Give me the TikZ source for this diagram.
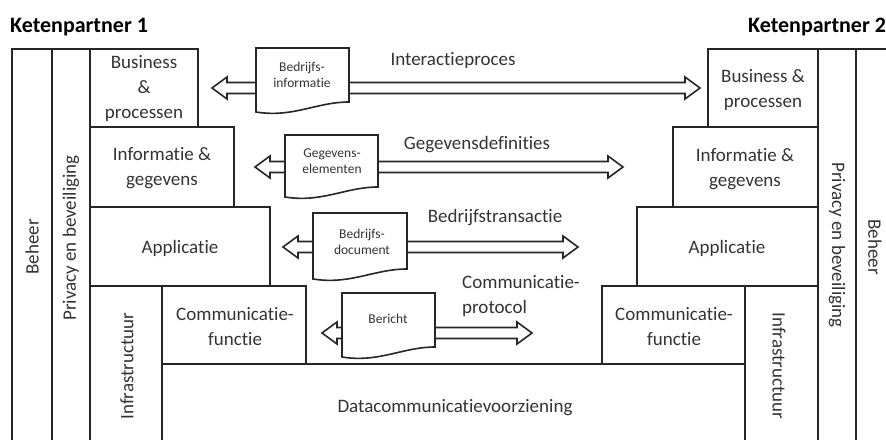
\documentclass[tikz,border=0pt]{standalone}
\usepackage{fontspec}
\setmainfont[Ligatures=NoCommon]{Carlito}
\usepackage{tikz}

\tikzset{
  layer/.style={draw=black!85, line width=1.8pt},
  lbl/.style={font=\fontsize{19}{25}\selectfont, align=center, text=black!80, inner sep=0pt},
  vlbl/.style={lbl, rotate=90},
  rlbl/.style={lbl, rotate=-90},
  doclbl/.style={font=\fontsize{13.5}{16}\selectfont, align=center, text=black!80, inner sep=0pt},
  title/.style={font=\fontsize{22}{26}\selectfont\bfseries, text=black, inner sep=0pt},
  hollow/.style={draw=black!85, line width=1.6pt, fill=white, line join=miter},
  docbox/.style={draw=black!85, line width=1.6pt, fill=white}
}

% hollow double arrow: left tip, right tip, height
\newcommand{\dblarr}[3]{
  \pgfmathsetmacro\len{#2-#1-30}
  \draw[hollow] (#1,#3) -- ++(15,-11) -- ++(0,5.5) -- ++(\len,0) -- ++(0,-5.5)
    -- ++(15,11) -- ++(-15,11) -- ++(0,-5.5) -- ++(-\len,0) -- ++(0,5.5) -- cycle;
}

% document with wavy bottom: left, right, top, bottom
\newcommand{\docshape}[4]{
  \pgfmathsetmacro\wa{#2-0.35*(#2-#1)}
  \pgfmathsetmacro\wb{#1+0.4*(#2-#1)}
  \draw[docbox] (#1,#3) -- (#2,#3) -- (#2,#4)
    .. controls (\wa,#4) and (\wb,#4+16) .. (#1,#4+10) -- cycle;
}

\begin{document}
\begin{tikzpicture}[x=1pt, y=-1pt]

\useasboundingbox (0,0) rectangle (886,439);
\clip (0,0) rectangle (886,439);

% Ketenpartner 1
\draw[layer] (12,49) rectangle (52,450);
\draw[layer] (52,49) rectangle (90,450);
\draw[layer] (90,49) rectangle (198,127);
\draw[layer] (90,127) rectangle (234,207);
\draw[layer] (90,207) rectangle (270,286);
\draw[layer] (90,286) rectangle (162,450);
\draw[layer] (162,286) rectangle (306,364);

% gemeenschappelijk
\draw[layer] (162,364) rectangle (745,450);

% Ketenpartner 2
\draw[layer] (708,49) rectangle (818,127);
\draw[layer] (673,127) rectangle (818,207);
\draw[layer] (637,207) rectangle (818,286);
\draw[layer] (602,286) rectangle (745,364);
\draw[layer] (745,286) rectangle (818,450);
\draw[layer] (818,49) rectangle (856,450);
\draw[layer] (856,49) rectangle (896,450);

\node[title, anchor=base west] (kp1) at (10,32) {Ketenpartner 1};
\node[title, anchor=base west] (kp2) at (748,32) {Ketenpartner 2};

\node[vlbl] (beh1) at (32,247) {Beheer};
\node[vlbl] (priv1) at (71,238) {Privacy en beveiliging};
\node[lbl] (bus1) at (144,88) {Business\\\&\\processen};
\node[lbl] (inf1) at (162,168) {Informatie \&\\gegevens};
\node[lbl] (app1) at (180,248) {Applicatie};
\node[vlbl] (infra1) at (127,366) {Infrastructuur};
\node[lbl] (com1) at (235,327) {Communicatie-\\functie};

\node[lbl] (bus2) at (763,90) {Business \&\\processen};
\node[lbl] (inf2) at (745,169) {Informatie \&\\gegevens};
\node[lbl] (app2) at (727,248) {Applicatie};
\node[lbl] (com2) at (674,327) {Communicatie-\\functie};
\node[rlbl] (infra2) at (779,366) {Infrastructuur};
\node[rlbl] (priv2) at (837,245) {Privacy en beveiliging};
\node[rlbl] (beh2) at (875,247) {Beheer};

\node[lbl] (dcv) at (455,408) {Datacommunicatievoorziening};

% uitwisseling per laag
\dblarr{212}{700}{88}
\dblarr{255}{623}{167}
\dblarr{283}{578}{247}
\dblarr{322}{532}{333}

\docshape{256}{349}{48}{102}
\docshape{285}{378}{135}{187}
\docshape{313}{407}{213}{269}
\docshape{342}{435}{293}{347}

\node[doclbl] (bi) at (302,75) {Bedrijfs-\\informatie};
\node[doclbl] (ge) at (332,161) {Gegevens-\\elementen};
\node[doclbl] (bd) at (362,242) {Bedrijfs-\\document};
\node[doclbl] (ber) at (388,319) {Bericht};

\node[lbl] (ip) at (453,60) {Interactieproces};
\node[lbl] (gd) at (477,145) {Gegevensdefinities};
\node[lbl] (bt) at (495,218) {Bedrijfstransactie};
\node[lbl, align=left] (cp) at (521,296) {Communicatie-\\protocol};

\end{tikzpicture}
\end{document}
